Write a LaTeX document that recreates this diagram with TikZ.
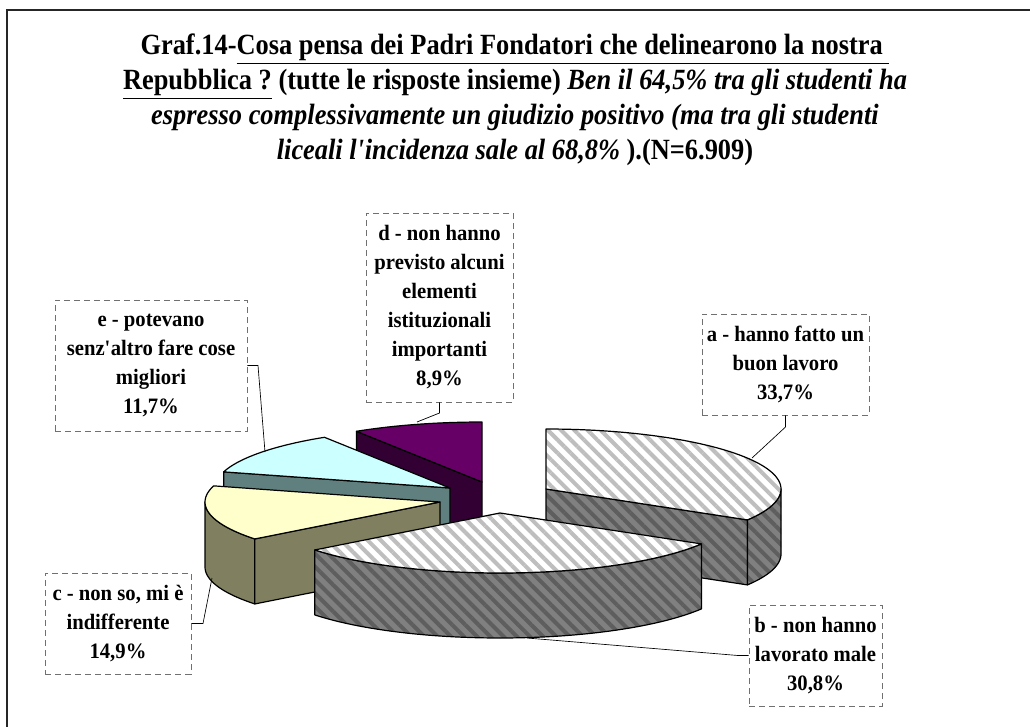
\documentclass[tikz,border=0pt]{standalone}
\usepackage{fontspec}
\setmainfont{Liberation Serif}
\newfontfamily\titlefont[FakeStretch=0.9]{Liberation Serif}
\newfontfamily\lblfont[FakeStretch=0.94]{Liberation Serif}
\usetikzlibrary{patterns.meta}
\definecolor{hatchlt}{HTML}{BEBEBE}
\definecolor{sidegray}{HTML}{808080}
\definecolor{sidedark}{HTML}{5E5E5E}
\definecolor{ctop}{HTML}{FFFFCC}
\definecolor{cside}{HTML}{808060}
\definecolor{etop}{HTML}{CCFFFF}
\definecolor{eside}{HTML}{608080}
\definecolor{dtop}{HTML}{660066}
\definecolor{dside}{HTML}{330033}
\definecolor{boxline}{HTML}{707070}
\begin{document}
\begin{tikzpicture}[x=0.75pt,y=-0.75pt,
  pieedge/.style={draw=black, line width=0.9pt, line join=round},
  tophatch/.style={fill=white, postaction={pattern={Lines[angle=-45,distance=7pt,line width=3pt]}, pattern color=hatchlt}, postaction={pieedge}},
  sidehatch/.style={fill=sidegray, postaction={pattern={Lines[angle=-45,distance=7pt,line width=3pt]}, pattern color=sidedark}, postaction={pieedge}},
  solid top/.style={pieedge, fill=#1},
  lbl/.style={draw=boxline, dash pattern=on 4.5pt off 3pt, line width=0.6pt, align=center, inner sep=0pt,
    font=\lblfont\fontsize{16.5}{21.75}\selectfont\bfseries},
  leader/.style={draw=black, line width=0.5pt}
]
\useasboundingbox (0,0) rectangle (1030,727);
% frame
\draw[line width=1.3pt, draw=black!85] (7,727) -- (7,10) -- (1030,10);

% title
\node[font=\titlefont\fontsize{22}{26.25}\selectfont\bfseries, align=center] (title) at (515,100)
 {Graf.14-\underline{Cosa pensa dei Padri Fondatori che delinearono la nostra\ }\\
  \underline{Repubblica ?} (tutte le risposte insieme) \textit{Ben il 64,5\% tra gli studenti ha}\\
  \textit{espresso complessivamente un giudizio positivo (ma tra gli studenti}\\
  \textit{liceali l\textquotesingle incidenza sale al 68,8\%} ).(N=6.909)};

% ---- slice d (purple) apex (482,482), 90..122.3
\draw[solid top=dside] (482,482) -- ({482+235*cos(122.3)},{482-60*sin(122.3)}) -- ++(0,65) -- (482,547) -- cycle;
\draw[solid top=dtop] (482,482) -- plot[domain=90:122.3,samples=20] ({482+235*cos(\x)},{482-60*sin(\x)}) -- cycle;

% ---- slice e (cyan) apex (450,488), 122.3..164.4
\draw[solid top=eside] (450,488) -- ({450+235*cos(164.4)},{488-60*sin(164.4)}) -- ++(0,65) -- (450,553) -- cycle;
\draw[solid top=etop] (450,488) -- plot[domain=122.3:164.4,samples=25] ({450+235*cos(\x)},{488-60*sin(\x)}) -- cycle;

% ---- slice a (hatched) apex (546,489), -31..90
\path[sidehatch] (546,489) -- ({546+235*cos(-31)},{489-60*sin(-31)}) -- ++(0,65) -- (546,554) -- cycle;
\path[sidehatch] plot[domain=-31:0,samples=20] ({546+235*cos(\x)},{489-60*sin(\x)}) -- plot[domain=0:-31,samples=20] ({546+235*cos(\x)},{554-60*sin(\x)}) -- cycle;
\path[tophatch] (546,489) -- plot[domain=-31:90,samples=60] ({546+235*cos(\x)},{489-60*sin(\x)}) -- cycle;

% ---- slice c (yellow) apex (440,502), 164.4..218
\draw[solid top=cside] plot[domain=180:218,samples=20] ({440+235*cos(\x)},{502-60*sin(\x)}) -- plot[domain=218:180,samples=20] ({440+235*cos(\x)},{567-60*sin(\x)}) -- cycle;
\draw[solid top=cside] (440,502) -- ({440+235*cos(218)},{502-60*sin(218)}) -- ++(0,65) -- (440,567) -- cycle;
\draw[solid top=ctop] (440,502) -- plot[domain=164.4:218,samples=30] ({440+235*cos(\x)},{502-60*sin(\x)}) -- cycle;

% ---- slice b (hatched) apex (500,513), -142..-31
\path[sidehatch] plot[domain=-142:-31,samples=50] ({500+235*cos(\x)},{513-60*sin(\x)}) -- plot[domain=-31:-142,samples=50] ({500+235*cos(\x)},{578-60*sin(\x)}) -- cycle;
\path[tophatch] (500,513) -- plot[domain=-142:-31,samples=50] ({500+235*cos(\x)},{513-60*sin(\x)}) -- cycle;

% ---- labels
\node[lbl, minimum width=110.25pt, minimum height=141.75pt] (d) at (439.5,307.5)
 {d - non hanno\\previsto alcuni\\elementi\\istituzionali\\importanti\\8,9\%};
\node[lbl, minimum width=144pt, minimum height=98.25pt] (e) at (151,365.5)
 {e - potevano\\senz\textquotesingle altro fare cose\\migliori\\11,7\%};
\node[lbl, minimum width=125.25pt, minimum height=75.75pt] (a) at (785.5,364.5)
 {a - hanno fatto un\\buon lavoro\\33,7\%};
\node[lbl, minimum width=109.5pt, minimum height=75.75pt] (c) at (118,623.5)
 {c - non so, mi è\\indifferente\\14,9\%};
\node[lbl, minimum width=99.75pt, minimum height=75.75pt] (b) at (815.5,655.5)
 {b - non hanno\\lavorato male\\30,8\%};

% ---- leader lines
\coordinate (dbend) at (439.5,413);
\coordinate (dend) at (417,422);
\coordinate (ebend) at (258,365.5);
\coordinate (eend) at (265,452);
\coordinate (abend) at (785.5,427);
\coordinate (aend) at (752,458);
\coordinate (cbend) at (203,623.5);
\coordinate (cend) at (212,578);
\coordinate (bbend) at (738,655.5);
\coordinate (bend) at (527,638);
\draw[leader] (d.south) -- (dbend) -- (dend);
\draw[leader] (e.east) -- (ebend) -- (eend);
\draw[leader] (a.south) -- (abend) -- (aend);
\draw[leader] (c.east) -- (cbend) -- (cend);
\draw[leader] (b.west) -- (bbend) -- (bend);
\end{tikzpicture}
\end{document}
